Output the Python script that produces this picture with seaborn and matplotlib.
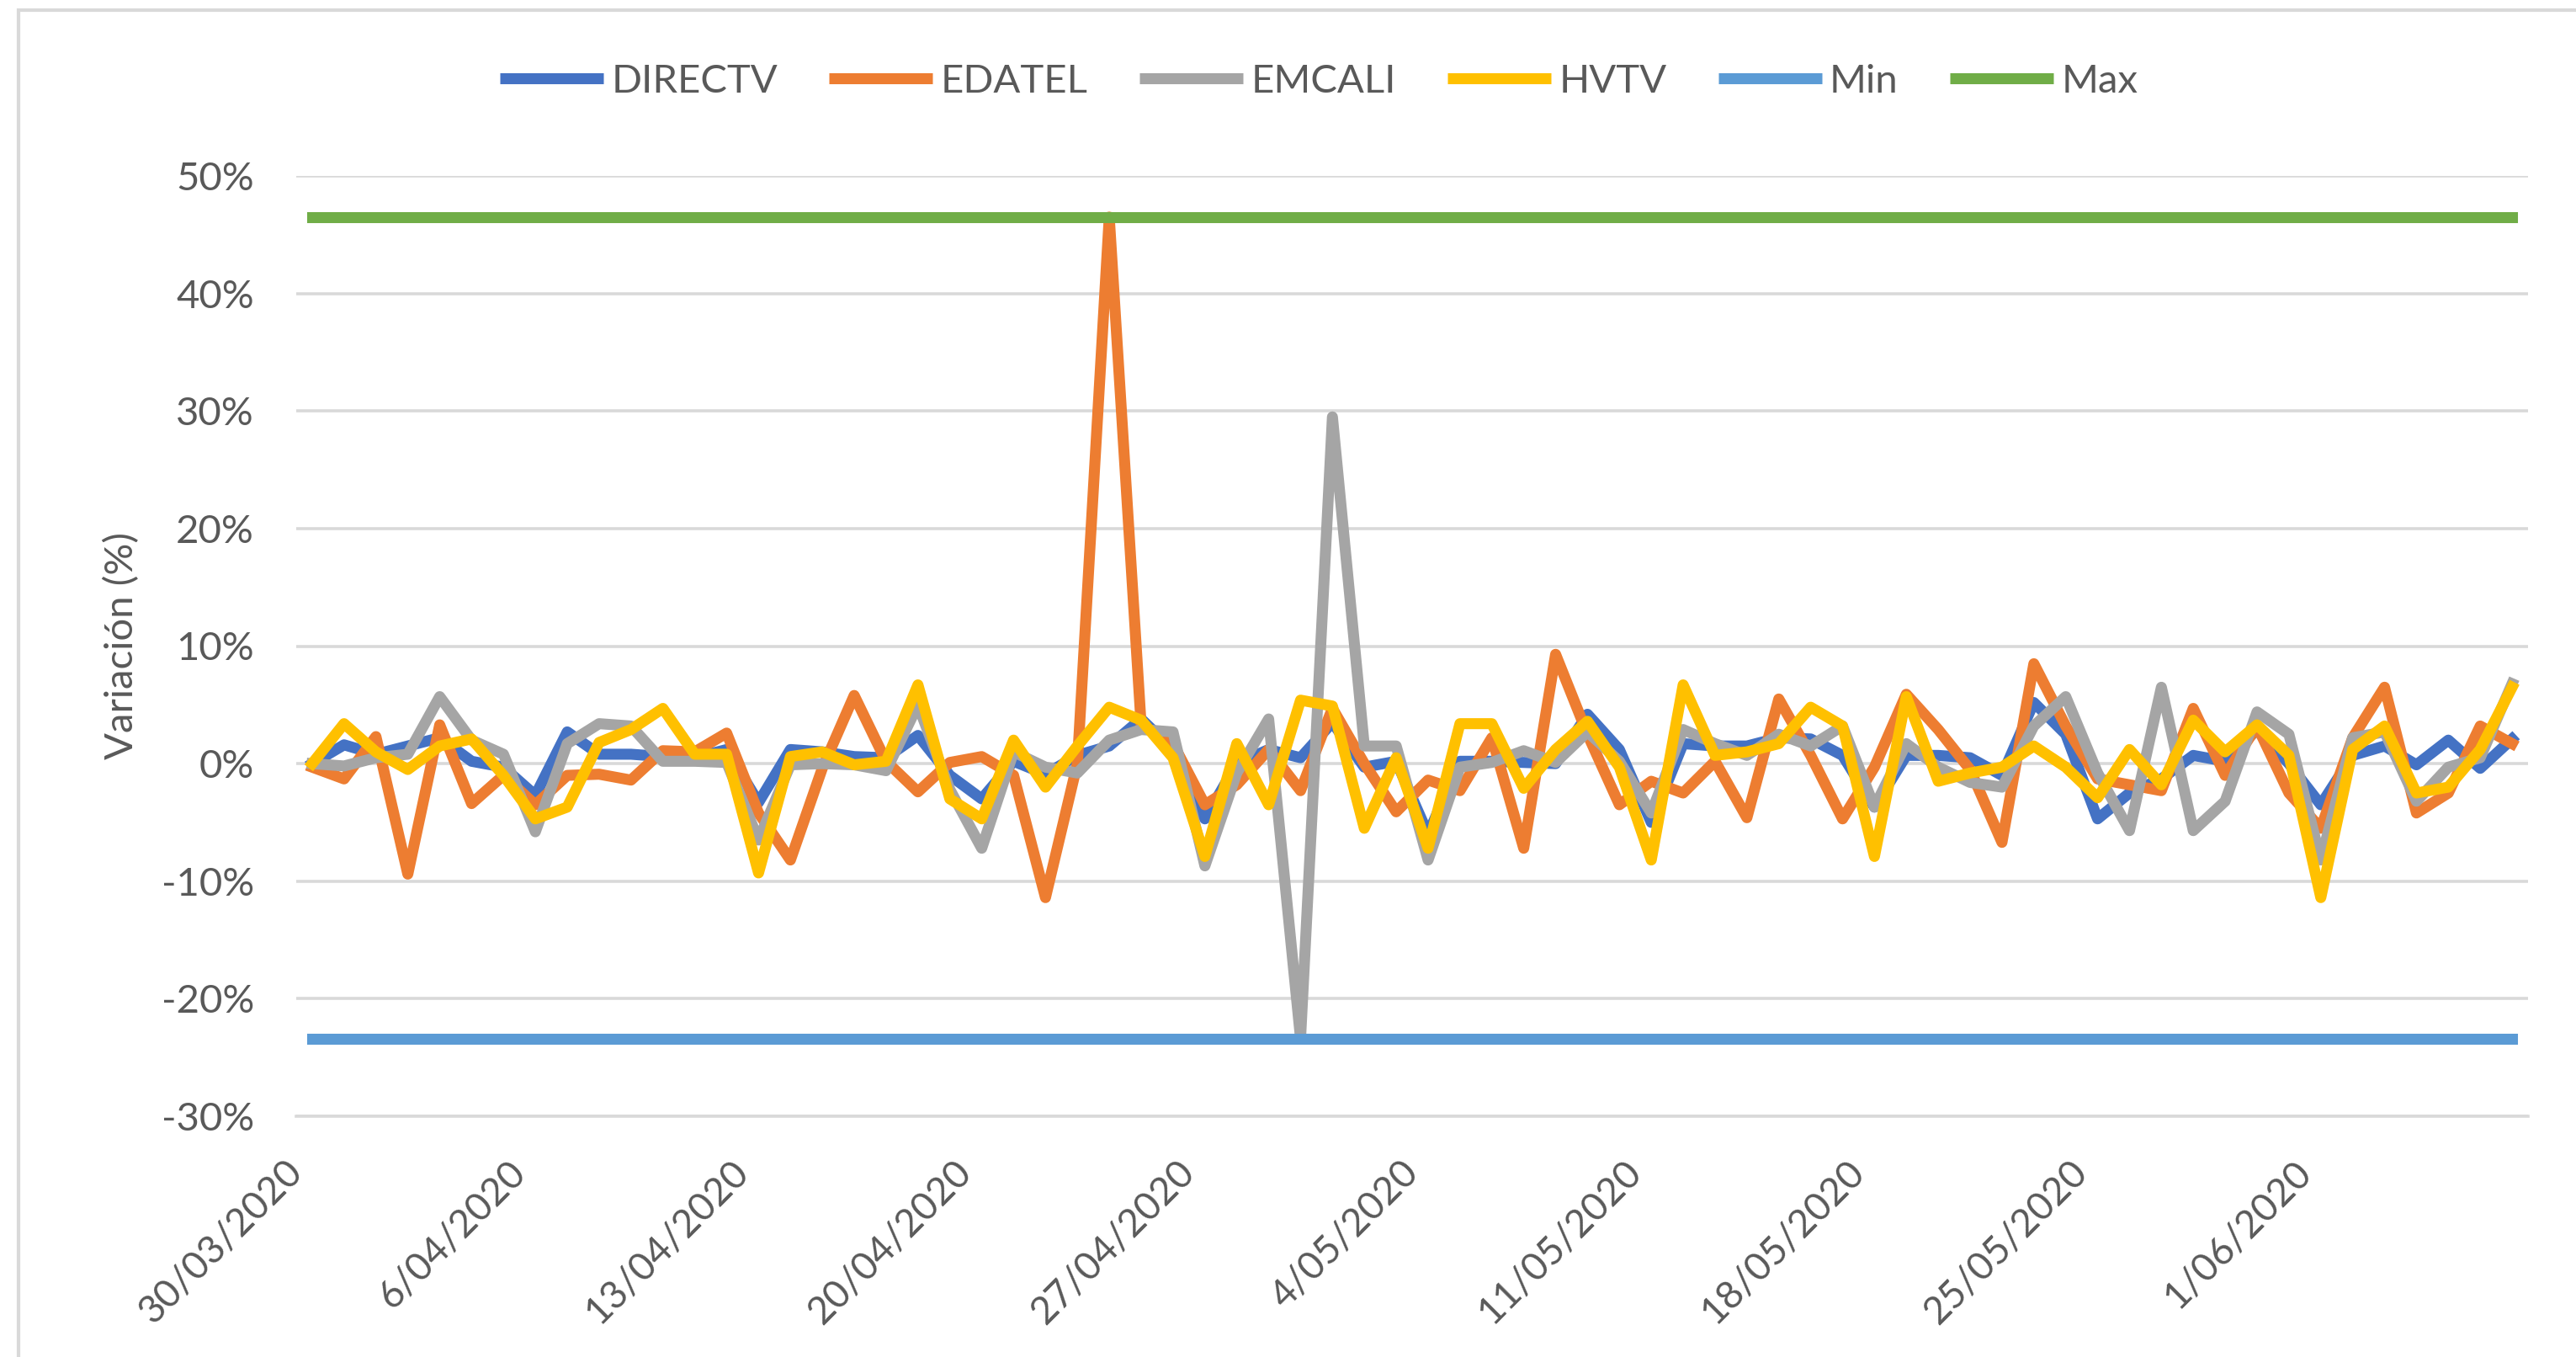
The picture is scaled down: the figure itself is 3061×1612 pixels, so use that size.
import numpy as np
import pandas as pd
import matplotlib
matplotlib.use('Agg')
import matplotlib.pyplot as plt
import matplotlib.transforms as mtransforms
from matplotlib.lines import Line2D
from matplotlib.patches import Rectangle
import seaborn as sns

# Variacion diaria (%) por operador, 30/03/2020 - 7/06/2020
fechas = pd.date_range('2020-03-30', '2020-06-07', freq='D')

directv = [0.0, 1.6, 0.8, 1.5, 2.2, 0.2, -0.3, -2.7, 2.7, 0.8,
           0.8, 0.6, 0.5, 1.2, -3.3, 1.2, 1.0, 0.6, 0.5, 2.4,
           -1.0, -3.0, 0.2, -0.9, 0.7, 1.5, 3.8, 1.2, -4.7, 0.0,
           1.2, 0.5, 3.5, -0.3, 0.2, -6.0, 0.2, 0.2, 0.1, 0.0,
           4.2, 1.2, -5.0, 1.7, 1.5, 1.5, 2.2, 2.1, 0.7, -3.7,
           0.7, 0.7, 0.5, -1.0, 5.2, 2.5, -4.7, -2.5, -1.3, 0.7,
           0.2, 2.9, 0.0, -3.5, 0.7, 1.5, -0.1, 2.0, -0.4, 2.1]

edatel = [-0.3, -1.3, 2.3, -9.4, 3.3, -3.4, -1.0, -3.5, -1.0, -0.9,
          -1.4, 1.1, 1.0, 2.6, -4.2, -8.2, -0.4, 5.8, 0.2, -2.4,
          0.1, 0.6, -1.0, -11.4, 0.0, 46.5, 3.3, 1.7, -3.5, -1.8,
          1.2, -2.3, 4.7, 0.0, -4.1, -1.4, -2.3, 2.2, -7.2, 9.3,
          2.5, -3.5, -1.5, -2.5, 0.2, -4.6, 5.5, 0.7, -4.7, -0.3,
          5.9, 2.9, -0.5, -6.7, 8.5, 3.2, -1.3, -1.8, -2.3, 4.7,
          -1.0, 3.2, -2.5, -5.5, 2.2, 6.5, -4.2, -2.5, 3.2, 1.7]

emcali = [0.0, -0.2, 0.5, 0.8, 5.7, 2.0, 0.8, -5.8, 1.7, 3.4,
          3.2, 0.2, 0.2, 0.1, -6.5, -0.1, 0.0, -0.1, -0.6, 5.0,
          -2.2, -7.2, 1.0, -0.3, -0.8, 2.0, 2.9, 2.7, -8.7, -0.8,
          3.8, -23.4, 29.5, 1.5, 1.5, -8.2, -0.3, 0.1, 1.1, 0.1,
          2.7, 0.2, -4.2, 2.9, 1.7, 0.7, 2.5, 1.5, 3.2, -3.7,
          1.7, -0.3, -1.6, -2.0, 3.2, 5.7, -0.8, -5.7, 6.5, -5.7,
          -3.2, 4.4, 2.5, -8.2, 2.2, 2.7, -3.2, -0.3, 0.5, 6.8]

hvtv = [0.0, 3.4, 1.0, -0.5, 1.5, 2.1, -1.0, -4.7, -3.7, 1.8,
        2.9, 4.7, 0.8, 0.8, -9.3, 0.6, 1.0, -0.1, 0.2, 6.7,
        -3.0, -4.7, 2.0, -2.0, 1.5, 4.8, 3.7, 0.5, -7.9, 1.7,
        -3.5, 5.4, 4.9, -5.5, 0.5, -7.2, 3.4, 3.4, -2.1, 1.2,
        3.6, -0.3, -8.2, 6.7, 0.7, 1.0, 1.7, 4.8, 3.2, -7.9,
        5.7, -1.5, -0.8, -0.3, 1.5, -0.3, -2.9, 1.2, -1.8, 3.7,
        1.0, 3.3, 0.7, -11.4, 1.2, 3.2, -2.5, -2.0, 1.2, 6.5]

etiquetas_x = ['30/03/2020', '6/04/2020', '13/04/2020', '20/04/2020', '27/04/2020',
               '4/05/2020', '11/05/2020', '18/05/2020', '25/05/2020', '1/06/2020', '']

series = ['DIRECTV', 'EDATEL', 'EMCALI', 'HVTV', 'Min', 'Max']
colores = ['#4472C4', '#ED7D31', '#A5A5A5', '#FFC000', '#5B9BD5', '#70AD47']

# Min y Max: minimo y maximo de todas las series, en todo el periodo
todos = np.concatenate([directv, edatel, emcali, hvtv])
valores = {
    'DIRECTV': directv,
    'EDATEL': edatel,
    'EMCALI': emcali,
    'HVTV': hvtv,
    'Min': [todos.min()] * len(fechas),
    'Max': [todos.max()] * len(fechas),
}

dia = np.arange(len(fechas))
df = pd.concat([pd.DataFrame({'dia': dia, 'valor': np.array(v) / 100, 'serie': k})
                for k, v in valores.items()], ignore_index=True)

sns.set_style('white')
plt.rcParams['font.family'] = ['Lato', 'DejaVu Sans']
gris_txt = '#595959'
gris_lin = '#D9D9D9'

W, H = 3061, 1612
fig = plt.figure(figsize=(W / 100, H / 100), dpi=100)
fig.subplots_adjust(left=352 / W, right=3004 / W, bottom=1 - 1326 / H, top=1 - 209 / H)
ax = fig.add_subplot(111)

sns.lineplot(data=df, x='dia', y='valor', hue='serie', hue_order=series,
             palette=colores, linewidth=9.4, legend=False, errorbar=None,
             sort=False, ax=ax)
for ln in ax.get_lines():
    ln.set_solid_joinstyle('round')
    ln.set_solid_capstyle('projecting')

# Ejes
ax.set_xlim(-0.5, len(fechas) - 0.5)
ax.set_ylim(-0.30, 0.50)
ax.set_yticks(np.arange(-3, 6) / 10)
ax.set_yticklabels([f'{int(round(v * 100))}%' for v in ax.get_yticks()])
ax.set_xticks(np.arange(0, len(fechas) + 1, 7) - 0.5)
ax.set_xticklabels(etiquetas_x, rotation=45, ha='right', va='center',
                   rotation_mode='anchor')
off = mtransforms.ScaledTranslation(0.32, 0, fig.dpi_scale_trans)
for lab in ax.get_xticklabels():
    lab.set_transform(lab.get_transform() + off)

ax.grid(axis='y', color=gris_lin, linewidth=2.6)
ax.grid(axis='x', visible=False)
ax.set_axisbelow(True)
for s in ['left', 'right', 'top']:
    ax.spines[s].set_visible(False)
ax.spines['bottom'].set_color(gris_lin)
ax.spines['bottom'].set_linewidth(2.6)

ax.tick_params(axis='y', length=0, pad=36, labelsize=34, labelcolor=gris_txt)
ax.tick_params(axis='x', length=12, width=2.6, color=gris_lin, pad=31,
               labelsize=33, labelcolor=gris_txt)

ax.set_xlabel('')
ax.set_ylabel('Variación (%)', fontsize=34, color=gris_txt)
ax.yaxis.set_label_coords(-0.07, 0.5)

# Leyenda
handles = [Line2D([0], [0], color=c, lw=9.4, solid_capstyle='butt') for c in colores]
fig.legend(handles, series, loc='center', bbox_to_anchor=(0.512, 0.940), ncol=6,
           frameon=False, fontsize=34, labelcolor=gris_txt, handlelength=2.6,
           handletextpad=0.2, columnspacing=1.3)

# Borde del grafico
fig.add_artist(Rectangle((22 / W, -0.05), 1.1, 0.05 + 1 - 12 / H,
                         transform=fig.transFigure, fill=False,
                         edgecolor=gris_lin, linewidth=3))

fig.savefig('out.png', dpi=100, facecolor='white')
